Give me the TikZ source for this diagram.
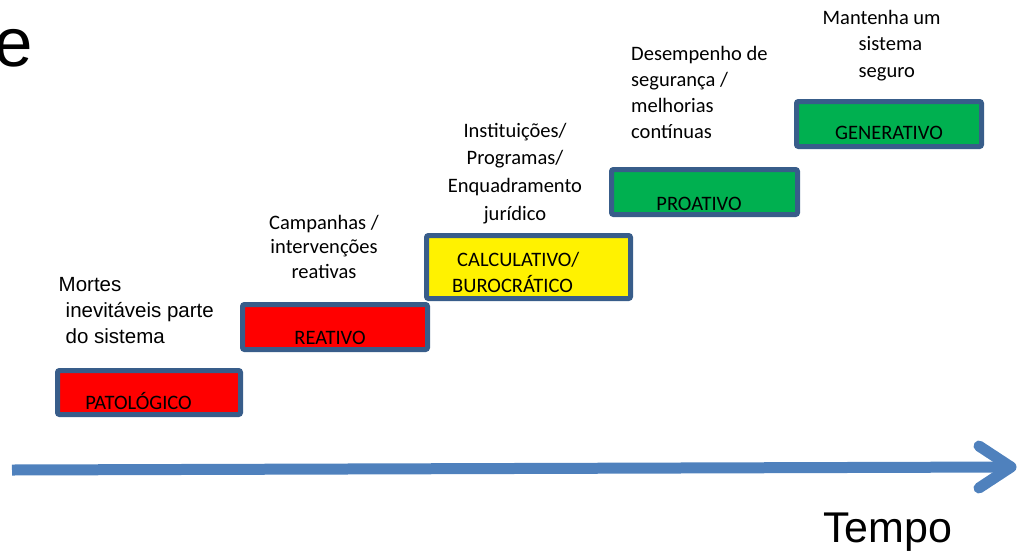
\documentclass[tikz,border=0pt]{standalone}
\usepackage{fontspec}
\setmainfont{Carlito}
\newfontfamily\arialf{Liberation Sans}
\usetikzlibrary{calc}
\definecolor{boxline}{RGB}{56,93,138}
\definecolor{axisblue}{RGB}{79,129,189}
\definecolor{stgreen}{RGB}{0,176,80}
\begin{document}
\begin{tikzpicture}[x=1pt,y=-1pt,
  stagebox/.style={draw=boxline, line width=5pt, rounded corners=2pt, inner sep=0pt},
  stagetext/.style={inner sep=0pt, font=\fontsize{20.5}{26}\selectfont, text=black},
  note/.style={inner sep=0pt, font=\fontsize{20.5}{#1}\selectfont, text=black},
  notearial/.style={inner sep=0pt, font=\arialf\fontsize{20.5}{#1}\selectfont, text=black},
  axisline/.style={draw=axisblue, line width=11pt},
  axishead/.style={draw=axisblue, line width=11pt, line cap=round, line join=round}]
\useasboundingbox (0,0) rectangle (1020,555);

% title fragment
\node[inner sep=0pt, anchor=base west, font=\arialf\fontsize{69}{80}\selectfont] (efrag) at (-6,66) {e};

% stage boxes
\node[stagebox, fill=red, minimum width=183pt, minimum height=44pt] (pato) at (149,392.5) {};
\node[stagebox, fill=red, minimum width=185pt, minimum height=45pt] (reat) at (335,327) {};
\node[stagebox, fill=yellow, minimum width=204pt, minimum height=63pt] (calc) at (528.5,267) {};
\node[stagebox, fill=stgreen, minimum width=186pt, minimum height=45pt] (proa) at (704.5,192) {};
\node[stagebox, fill=stgreen, minimum width=185pt, minimum height=45pt] (gene) at (889,124) {};

% box texts
\node[stagetext, anchor=base] (patot) at (138.5,409) {PATOLÓGICO};
\node[stagetext, anchor=base] (reatt) at (330,344) {REATIVO};
\node[stagetext, anchor=base west, align=left] (calct) at (452,292) {\hspace*{5pt}CALCULATIVO/\\BUROCRÁTICO};
\node[stagetext, anchor=base] (proat) at (699,210) {PROATIVO};
\node[stagetext, anchor=base] (genet) at (889,139) {GENERATIVO};

% descriptions (base anchor = baseline of the last line)
\node[notearial=26, anchor=base west, align=left] (mortes) at (58.5,343)
  {Mortes\\\hspace*{7pt}inevitáveis parte\\\hspace*{7pt}do sistema};
\node[note=24.5, anchor=base, align=center] (campa) at (324,278)
  {Campanhas /\\intervenções\\reativas};
\node[note=27.6, anchor=base, align=center] (insti) at (515,220)
  {Instituições/\\Programas/\\Enquadramento\\jurídico};
\node[note=26, anchor=base west, align=left] (desem) at (631,138)
  {Desempenho de\\segurança /\\melhorias\\contínuas};
\node[note=26.5, anchor=base west, align=left] (mante) at (822.5,77)
  {Mantenha um\\\hspace*{36pt}sistema\\\hspace*{36pt}seguro};

% time axis
\coordinate (axstart) at (12,470);
\coordinate (axend) at (1011,467);
\draw[axisline] (axstart) -- (axend);
\draw[axishead] ($(axend)+(-32,-21)$) -- (axend) -- ($(axend)+(-32,21)$);
\node[inner sep=0pt, anchor=base west, font=\arialf\fontsize{43}{50}\selectfont] (tempo) at (823,542) {Tempo};
\end{tikzpicture}
\end{document}
